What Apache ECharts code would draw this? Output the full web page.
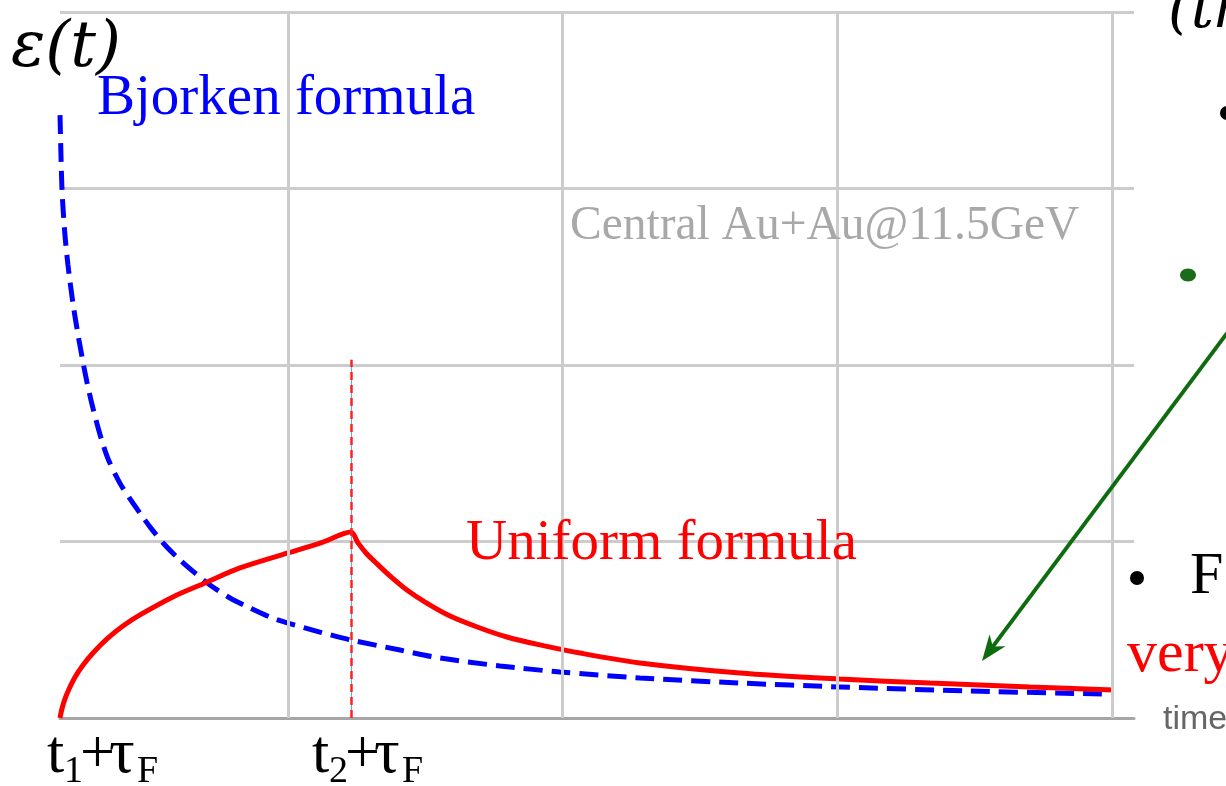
<!DOCTYPE html>
<html>
<head>
<meta charset="utf-8">
<script src="https://cdn.jsdelivr.net/npm/echarts@6/dist/echarts.min.js"></script>
<style>
  html, body { margin: 0; padding: 0; background: #ffffff; }
  #chart { width: 1226px; height: 786px; }
</style>
</head>
<body>
<div id="chart"></div>
<script>
// Energy density vs. time, arbitrary units (vertical grid lines at t = 1, 2, 3, 4)
const bjorkenT = [0.170, 0.174, 0.177, 0.181, 0.188, 0.199, 0.217, 0.239, 0.268, 0.301,
                  0.341, 0.388, 0.425, 0.461, 0.501, 0.552, 0.607, 0.661, 0.716, 0.789,
                  0.862, 0.934, 1.000, 1.116, 1.229, 1.408, 1.553, 1.772, 1.990, 2.281,
                  2.645, 3.009, 3.483, 3.963];
const bjorkenE = [3.416, 3.161, 3.003, 2.890, 2.737, 2.567, 2.351, 2.142, 1.904, 1.688,
                  1.484, 1.331, 1.241, 1.161, 1.076, 0.980, 0.895, 0.822, 0.754, 0.680,
                  0.623, 0.572, 0.538, 0.487, 0.442, 0.385, 0.340, 0.295, 0.261, 0.227,
                  0.198, 0.176, 0.153, 0.136];

const uniformT = [0.170, 0.177, 0.188, 0.203, 0.225, 0.254, 0.290, 0.341, 0.399, 0.461,
                  0.581, 0.698, 0.825, 1.000, 1.127, 1.229, 1.255, 1.284, 1.317, 1.371,
                  1.433, 1.499, 1.590, 1.699, 1.797, 1.917, 2.063, 2.281, 2.645, 3.009,
                  3.337, 3.701, 4.005];
const uniformE = [0.000, 0.051, 0.108, 0.164, 0.232, 0.300, 0.368, 0.448, 0.521, 0.584,
                  0.686, 0.765, 0.850, 0.935, 0.997, 1.054, 0.992, 0.935, 0.884, 0.805,
                  0.725, 0.657, 0.578, 0.510, 0.459, 0.414, 0.368, 0.312, 0.255, 0.221,
                  0.198, 0.176, 0.159];

const gridTimes = [1, 2, 3, 4];
const formationTime = 1.229;      // t2 + tau_F
const formationLineTop = 2.03;

// tick labels: main text + subscript pieces
const tickLabels = [
  { x: 47,  parts: ['t', '1', '+', 'τ', 'F'] },
  { x: 312, parts: ['t', '2', '+', 'τ', 'F'] }
];

const SERIF = '"Liberation Serif", "Times New Roman", serif';
const SANS = '"Liberation Sans", Arial, sans-serif';

function label(text, x, baseline, size, color, opts) {
  opts = opts || {};
  return {
    type: 'text', x: x, y: baseline - 0.34 * size, silent: true, z: 100,
    style: {
      text: text, fill: color, fontSize: size,
      fontFamily: opts.family || SERIF,
      fontStyle: opts.italic ? 'italic' : 'normal',
      fontWeight: opts.bold ? 'bold' : 'normal',
      align: 'left', verticalAlign: 'middle'
    }
  };
}

const graphics = [];

// axis tick labels t_i + tau_F
tickLabels.forEach(function (tl) {
  const p = tl.parts;
  graphics.push(label(p[0], tl.x,       777, 62, '#000'));
  graphics.push(label(p[1], tl.x + 17,  785, 38, '#000'));
  graphics.push(label(p[2], tl.x + 33,  777, 62, '#000'));
  graphics.push(label(p[3], tl.x + 62,  777, 64, '#000'));
  graphics.push(label(p[4], tl.x + 90,  785, 38, '#000'));
});

// axis name and curve annotations
graphics.push(label('ε(t)', 11, 71, 64, '#000', { italic: true, family: '"DejaVu Serif", serif' }));
graphics.push(label('Bjorken formula', 97, 118, 57, '#0000ff'));
graphics.push(label('Uniform formula', 466, 563, 57, '#ff0000'));
graphics.push(label('Central Au+Au@11.5GeV', 570, 243, 47.5, '#a8a8a8'));

// side notes
graphics.push(label('(th', 1168, 32, 58, '#000', { italic: true, family: '"DejaVu Serif", serif' }));
graphics.push({ type: 'circle', silent: true, z: 100, shape: { cx: 1227, cy: 113, r: 7 }, style: { fill: '#000' } });
graphics.push({ type: 'ellipse', silent: true, z: 100, shape: { cx: 1188, cy: 275, rx: 8, ry: 6.5 }, style: { fill: '#1a6b1a' } });
graphics.push({ type: 'circle', silent: true, z: 100, shape: { cx: 1137, cy: 578, r: 7 }, style: { fill: '#000' } });
graphics.push(label('F', 1190, 598, 60, '#000'));
graphics.push(label('very', 1127, 676, 60, '#ff0000'));
graphics.push(label('time', 1163, 731, 34, '#666666', { family: SANS }));

// green pointer arrow
(function () {
  const tip = [982, 661], start = [1260, 289];
  const dx = tip[0] - start[0], dy = tip[1] - start[1];
  const len = Math.sqrt(dx * dx + dy * dy);
  const ux = dx / len, uy = dy / len, px = -uy, py = ux;
  const L = 26, W = 10, N = 18;
  const base = [tip[0] - L * ux, tip[1] - L * uy];
  const notch = [tip[0] - N * ux, tip[1] - N * uy];
  graphics.push({ type: 'line', silent: true, z: 100,
    shape: { x1: start[0], y1: start[1], x2: notch[0], y2: notch[1] },
    style: { stroke: '#0e6b0e', lineWidth: 4 } });
  graphics.push({ type: 'polygon', silent: true, z: 100,
    shape: { points: [tip, [base[0] + W * px, base[1] + W * py], notch, [base[0] - W * px, base[1] - W * py]] },
    style: { fill: '#0e6b0e' } });
})();

const chart = echarts.init(document.getElementById('chart'), null, { renderer: 'canvas' });
chart.setOption({
  backgroundColor: '#ffffff',
  animation: false,
  grid: { left: 60, right: 92, top: 12, bottom: 68, containLabel: false },
  xAxis: {
    type: 'value', min: 0.17, max: 4.08,
    axisLine: { show: true, lineStyle: { color: '#a6a6a6', width: 3 } },
    axisTick: { show: false }, axisLabel: { show: false }, splitLine: { show: false }
  },
  yAxis: {
    type: 'value', min: 0, max: 4, interval: 1,
    axisLine: { show: false }, axisTick: { show: false }, axisLabel: { show: false },
    splitLine: { show: true, lineStyle: { color: '#cccccc', width: 3 } }
  },
  series: [
    {
      name: 'grid', type: 'line', data: [], z: 1, silent: true,
      markLine: {
        silent: true, symbol: 'none', animation: false,
        label: { show: false },
        data: gridTimes.map(function (t) {
          return { xAxis: t, lineStyle: { color: '#cccccc', width: 3, type: 'solid' } };
        }).concat([[
          { coord: [formationTime, 0], lineStyle: { color: '#40b8ec', width: 1, type: 'solid' } },
          { coord: [formationTime, formationLineTop] }
        ]])
      }
    },
    {
      name: 'Bjorken formula', type: 'line', z: 3,
      data: bjorkenT.map(function (t, i) { return [t, bjorkenE[i]]; }),
      showSymbol: false, smooth: 0.3,
      lineStyle: { color: '#0000ff', width: 5, type: [19, 9] }
    },
    {
      name: 'Uniform formula', type: 'line', z: 4,
      data: uniformT.map(function (t, i) { return [t, uniformE[i]]; }),
      showSymbol: false, smooth: 0.3,
      lineStyle: { color: '#ff0000', width: 5, type: 'solid' },
      markLine: {
        silent: true, symbol: 'none', animation: false,
        label: { show: false },
        lineStyle: { color: '#ff2020', width: 2.5, type: [8, 5] },
        data: [[{ coord: [formationTime, 0] }, { coord: [formationTime, formationLineTop] }]]
      }
    }
  ],
  graphic: graphics
});
</script>
</body>
</html>
